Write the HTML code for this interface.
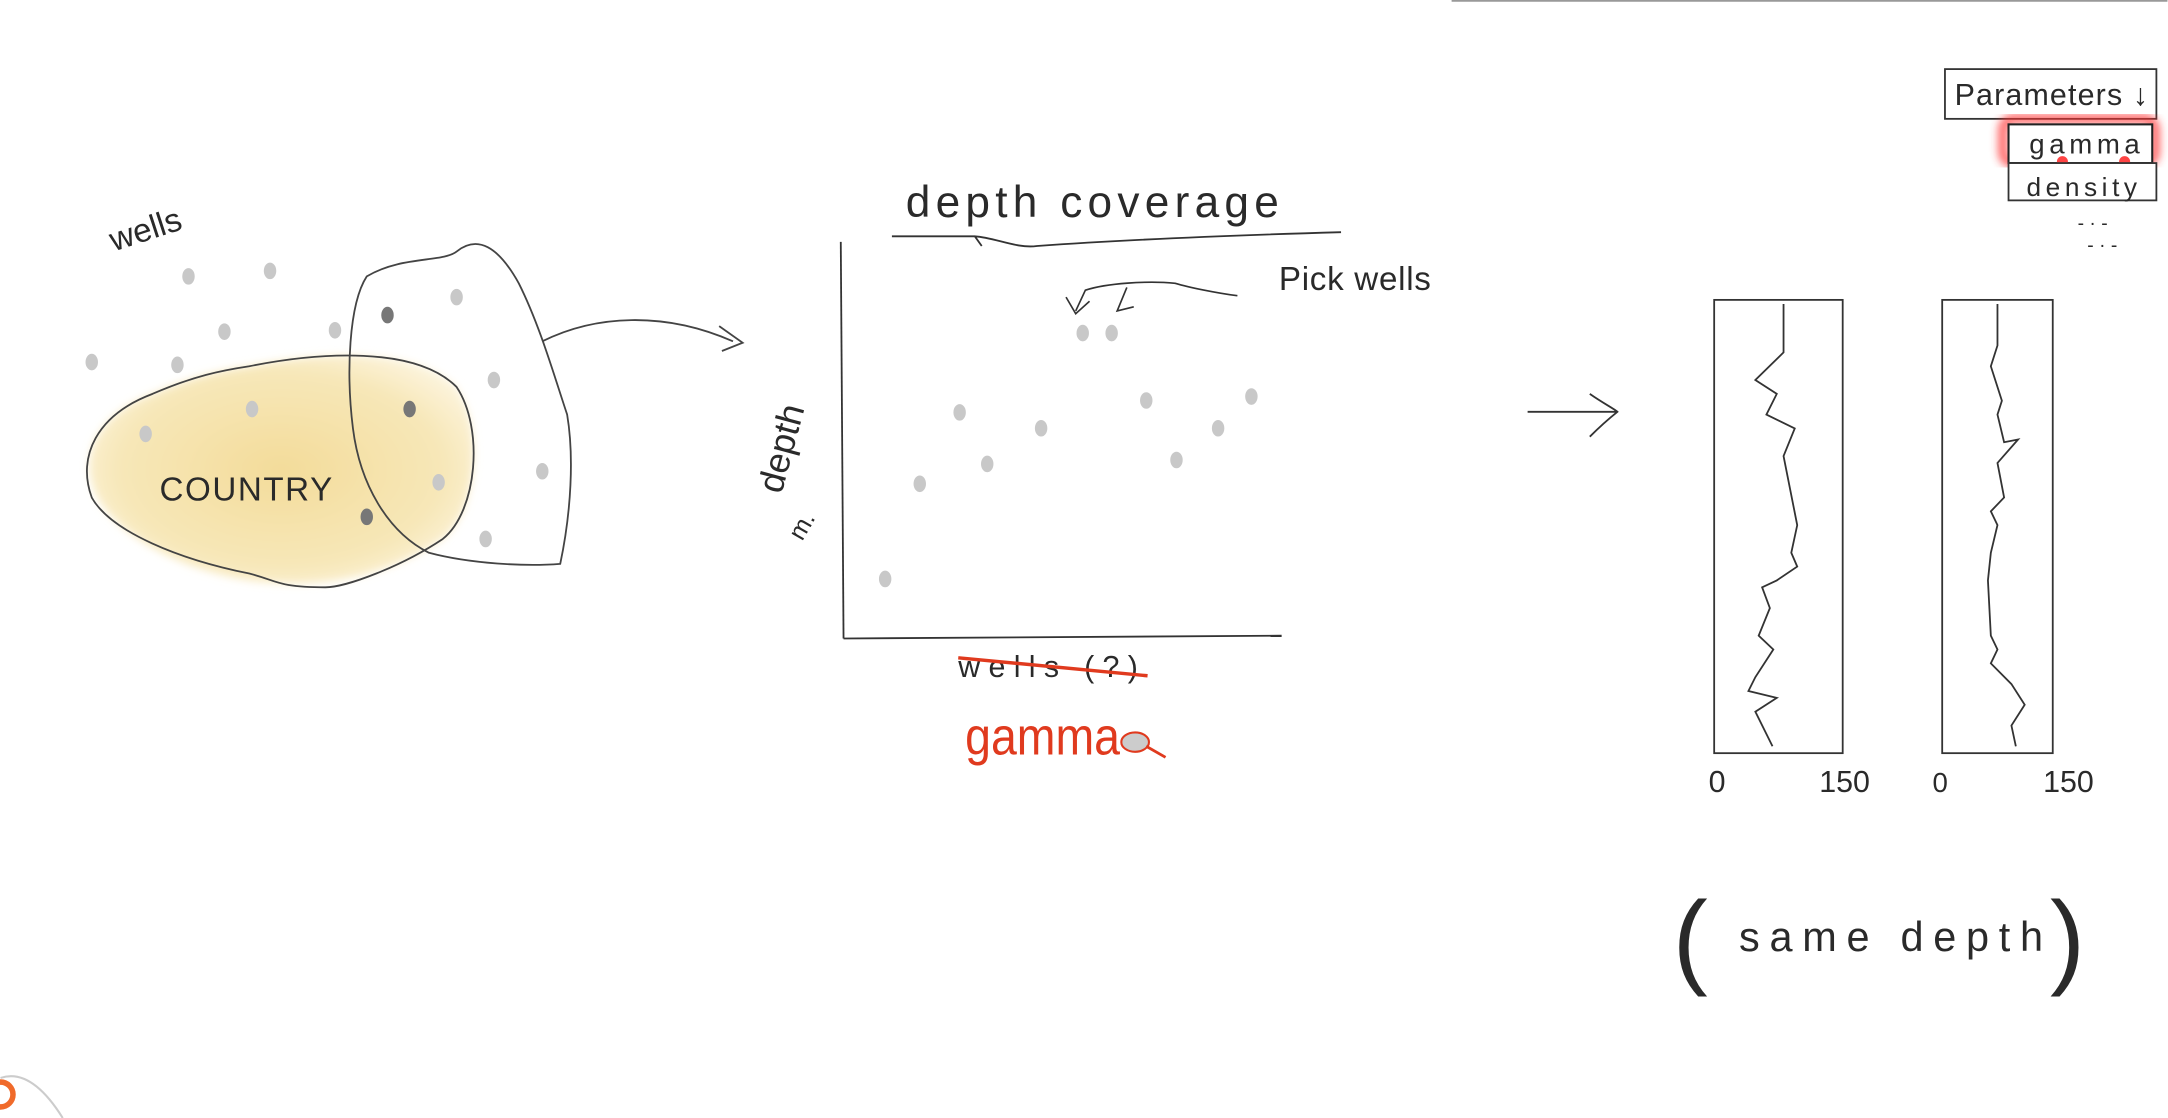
<!DOCTYPE html>
<html><head><meta charset="utf-8">
<style>
html,body{margin:0;padding:0;background:#fff;}
svg{display:block;}
text{font-family:"Liberation Sans",sans-serif;fill:#2a2a2a;}
</style></head>
<body>
<svg id="s" width="2168" height="1118" viewBox="0 0 1568 809" xmlns="http://www.w3.org/2000/svg">
<defs>
<radialGradient id="yg" cx="50%" cy="50%" r="60%">
<stop offset="0%" stop-color="#f3dc9a"/><stop offset="70%" stop-color="#f7e7b8"/><stop offset="100%" stop-color="#fdf6e2"/>
</radialGradient>
<filter id="blur"><feGaussianBlur stdDeviation="3"/></filter>
</defs>
<line x1="1050" y1="0.5" x2="1568" y2="0.5" stroke="#999" stroke-width="1.5"/>

<text x="82" y="182" font-size="24" transform="rotate(-18 82 182)">wells</text>
<path d="M180,265 C230,255 300,250 330,280 C350,310 345,370 320,390 C290,410 250,425 200,422 C150,420 90,395 70,360 C55,330 70,300 110,285 C140,272 160,268 180,265 Z" fill="url(#yg)" filter="url(#blur)"/>
<path d="M180,265 C230,255 300,250 330,280 C350,310 345,370 320,390 C290,410 250,425 235,425 C200,425 200,420 180,415 C130,405 80,385 66,360 C55,330 70,300 110,285 C140,272 160,268 180,265 Z" fill="none" stroke="#444" stroke-width="1.3"/>
<text x="115" y="362" font-size="24" textLength="125">COUNTRY</text>
<path d="M265,200 C290,185 320,190 330,182 C345,170 360,178 375,205 C390,235 400,270 410,300 C415,330 413,370 405,408 C380,410 340,408 310,400 C280,385 260,350 255,310 C250,270 252,220 265,200 Z" fill="none" stroke="#444" stroke-width="1.3"/>
<path d="M392,247 C430,228 480,225 530,247 M520,236 L537,248 L522,254" fill="none" stroke="#444" stroke-width="1.3"/>
<g id="mapDots"></g>

<text x="655" y="157" font-size="32" textLength="270">depth coverage</text>
<path d="M645,171 L705,171 L710,178 M705,171 C720,172 735,180 750,178 C820,173 900,170 970,168" fill="none" stroke="#333" stroke-width="1.3"/>
<line x1="608" y1="175" x2="610" y2="462" stroke="#333" stroke-width="1.3"/>
<line x1="610" y1="462" x2="927" y2="460" stroke="#333" stroke-width="1.3"/>
<text x="565" y="358" font-size="26" transform="rotate(-75 565 358)">depth</text>
<text x="580" y="392" font-size="18" transform="rotate(-60 580 392)">m.</text>
<text x="925" y="210" font-size="24" textLength="110">Pick wells</text>
<path d="M895,214 C880,212 860,208 850,205 C830,203 800,205 785,210 L778,225 M771,215 L778,227 L788,218 M815,208 L808,225 L820,222" fill="none" stroke="#333" stroke-width="1.2"/>
<g id="scatter"></g>
<text x="693" y="490" font-size="22" textLength="130" fill="#444">wells (?)</text>
<line x1="693" y1="476" x2="830" y2="489" stroke="#e03a1e" stroke-width="2.5"/>
<text x="698" y="546" font-size="38" textLength="112" lengthAdjust="spacingAndGlyphs" style="fill:#e03a1e">gamma</text>
<ellipse cx="821" cy="537" rx="10" ry="7" fill="#ccc" stroke="#e03a1e" stroke-width="1.5"/>
<line x1="829" y1="540" x2="843" y2="548" stroke="#e03a1e" stroke-width="2"/>

<path d="M1105,298 L1170,298 M1150,285 C1160,292 1168,296 1170,298 C1165,302 1158,308 1150,316" fill="none" stroke="#333" stroke-width="1.3"/>

<rect x="1240" y="217" width="93" height="328" fill="none" stroke="#333" stroke-width="1.3"/>
<rect x="1405" y="217" width="80" height="328" fill="none" stroke="#333" stroke-width="1.3"/>
<path id="trace1" fill="none" stroke="#333" stroke-width="1.3"/>
<path id="trace2" fill="none" stroke="#333" stroke-width="1.3"/>
<text x="1236" y="573" font-size="22">0</text>
<text x="1316" y="573" font-size="22">150</text>
<text x="1398" y="573" font-size="20">0</text>
<text x="1478" y="573" font-size="22">150</text>
<text x="1210" y="705" font-size="76" fill="#333">(</text>
<text x="1258" y="688" font-size="30" textLength="220">same depth</text>
<text x="1483" y="705" font-size="76" fill="#333">)</text>

<rect x="1407" y="50" width="153" height="36" fill="#fff" stroke="#333" stroke-width="1.3"/>
<text x="1414" y="76" font-size="22" textLength="140">Parameters ↓</text>
<rect x="1449" y="86" width="110" height="32" rx="8" fill="none" stroke="#f33" stroke-width="7" opacity="0.75" filter="url(#blur)"/>
<rect x="1453" y="90" width="104" height="28" fill="#fff" stroke="#222" stroke-width="1.5"/>
<circle cx="1492" cy="117" r="4" fill="#f44"/>
<circle cx="1537" cy="117" r="4" fill="#f44"/>
<text x="1468" y="111" font-size="20" textLength="80">gamma</text>
<rect x="1453" y="118" width="107" height="27" fill="#fff" stroke="#333" stroke-width="1.3"/>
<text x="1466" y="142" font-size="19" textLength="80">density</text>
<text x="1503" y="166" font-size="14" fill="#555">- · -</text>
<text x="1510" y="182" font-size="14" fill="#555">- · -</text>

<path d="M0,780 C15,775 30,785 45,809" fill="none" stroke="#ccc" stroke-width="1.5"/>
<circle cx="0" cy="792" r="9" fill="none" stroke="#f06a2a" stroke-width="4"/>
</svg>
<script>
const mapX=[136,195,162,242,66,128,280,330,357,182,296,105,317,392,265,351];
const mapY=[200,196,240,239,262,264,228,215,275,296,296,314,349,341,374,390];
const mapDark=[0,0,0,0,0,0,1,0,0,0,1,0,0,0,1,0];
const wellIdx=[9.5,17.4,26.5,32.8,45.1,54.6,61.2,69.1,76.0,85.5,93.1];
const depthCov=[15,39,57,44,53,77,77,60,45,53,61];
const depth1=[3,26,38,58,68,83,93,113,163,183,193,203,208,223,243,253,273,283,288,298,323];
const gamma1=[81,81,81,48,73,61,94,81,97,90,97,73,56,65,52,69,48,40,73,48,68];
const depth2=[3,33,48,73,83,103,101,118,143,153,163,183,203,243,253,263,278,293,308,323];
const gamma2=[75,75,66,81,75,84,103,75,84,66,75,66,62,66,75,66,94,112,94,100];

const NS="http://www.w3.org/2000/svg";
const xs=v=>610+v*3.17, ys=v=>462-v*2.87;
const g=document.getElementById('mapDots');
mapX.forEach((x,i)=>{const e=document.createElementNS(NS,'ellipse');
e.setAttribute('cx',x);e.setAttribute('cy',mapY[i]);e.setAttribute('rx',4.5);e.setAttribute('ry',6);
e.setAttribute('fill',mapDark[i]?'#777':'#c8c8c8');


g.appendChild(e);});
const sc=document.getElementById('scatter');
wellIdx.forEach((w,i)=>{const e=document.createElementNS(NS,'ellipse');
e.setAttribute('cx',xs(w));e.setAttribute('cy',ys(depthCov[i]));e.setAttribute('rx',4.5);e.setAttribute('ry',6);
e.setAttribute('fill','#c8c8c8');


sc.appendChild(e);});
function trace(id,x0,w,dep,gam){let d='';dep.forEach((dv,i)=>{d+=(i?'L':'M')+(x0+gam[i]/150*w).toFixed(1)+','+(217+dv)+' ';});
document.getElementById(id).setAttribute('d',d);}
trace('trace1',1240,93,depth1,gamma1);
trace('trace2',1405,80,depth2,gamma2);
</script>
</body></html>
